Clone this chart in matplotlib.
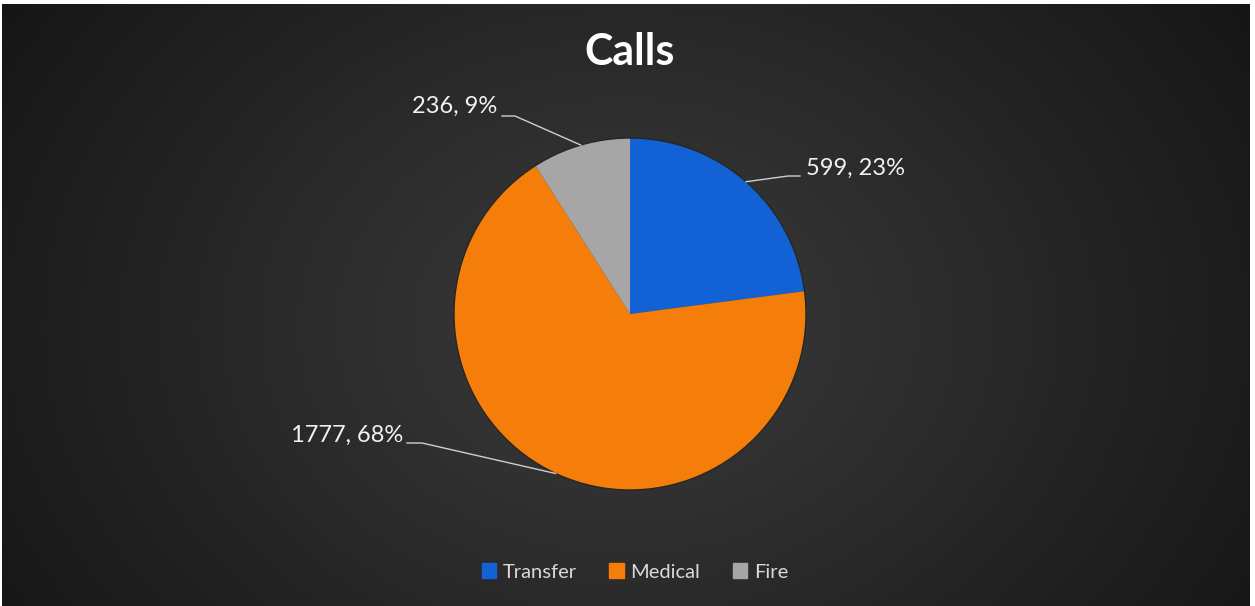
import numpy as np
import matplotlib
matplotlib.use("Agg")
import matplotlib.pyplot as plt

# data
categories = ["Transfer", "Medical", "Fire"]
calls = [599, 1777, 236]
colors = ["#1262d6", "#f57d0a", "#a6a6a6"]

W, H = 1255, 606
fig = plt.figure(figsize=(W / 100, H / 100), dpi=100, facecolor="white")

# background panel with radial gradient
bg = fig.add_axes([2 / W, 0, (W - 7) / W, (H - 4) / H])
bg.set_axis_off()
yy, xx = np.mgrid[0:300, 0:620]
d = np.sqrt(((xx - 310) / 420) ** 2 + ((yy - 160) / 330) ** 2)
shade = np.clip(0.235 - 0.17 * d, 0.07, 0.24)
bg.imshow(np.dstack([shade] * 3), extent=[0, 1, 0, 1], aspect="auto", interpolation="bicubic")

ax = fig.add_axes([0, 0, 1, 1])
ax.patch.set_alpha(0)

cx, cy, r = 630, 606 - 314, 176
wedges, _ = ax.pie(calls, colors=colors, startangle=90, counterclock=False,
                   center=(cx, cy), radius=r, frame=True,
                   wedgeprops=dict(linewidth=0))
# faint dark rim around the pie
ax.add_patch(plt.Circle((cx, cy), r, fill=False, edgecolor="#262626", lw=1.0))
ax.set_xlim(0, W)
ax.set_ylim(0, H)
ax.set_axis_off()

total = sum(calls)
labels = [f"{v}, {round(v / total * 100)}%" for v in calls]

# label placement: (text x, text y, ha, elbow x, line start x) in pixels
label_pos = [
    (806, 606 - 168, "left", 788, 800),
    (403, 606 - 435, "right", 422, 407),
    (497, 606 - 106, "right", 515, 502),
]
line_y = [606 - 176, 606 - 443, 606 - 116]

for w, lab, (tx, ty, ha, ex, sx), ly in zip(wedges, labels, label_pos, line_y):
    ang = np.deg2rad((w.theta1 + w.theta2) / 2)
    axp, ayp = cx + r * np.cos(ang), cy + r * np.sin(ang)
    ax.plot([sx, ex, axp], [ly, ly, ayp], color="#cfcfcf", lw=1.0)
    ax.text(tx, ty, lab, ha=ha, va="center", color="#f2f2f2",
            fontsize=17, family="Lato", fontweight="normal")

fig.text(630 / W, 1 - 52 / H, "Calls", ha="center", va="center",
         color="white", fontsize=31, family="Lato", fontweight="bold")

handles = [plt.Rectangle((0, 0), 1, 1, color=c) for c in colors]
leg = fig.legend(handles, categories, loc="center", bbox_to_anchor=(635 / W, 1 - 572 / H),
                 ncol=3, frameon=False, handlelength=0.7, handleheight=0.7,
                 handletextpad=0.35, columnspacing=1.6,
                 prop=dict(family="Lato", size=14.5))
for t in leg.get_texts():
    t.set_color("#d9d9d9")

fig.savefig("out.png", dpi=100, facecolor="white")
